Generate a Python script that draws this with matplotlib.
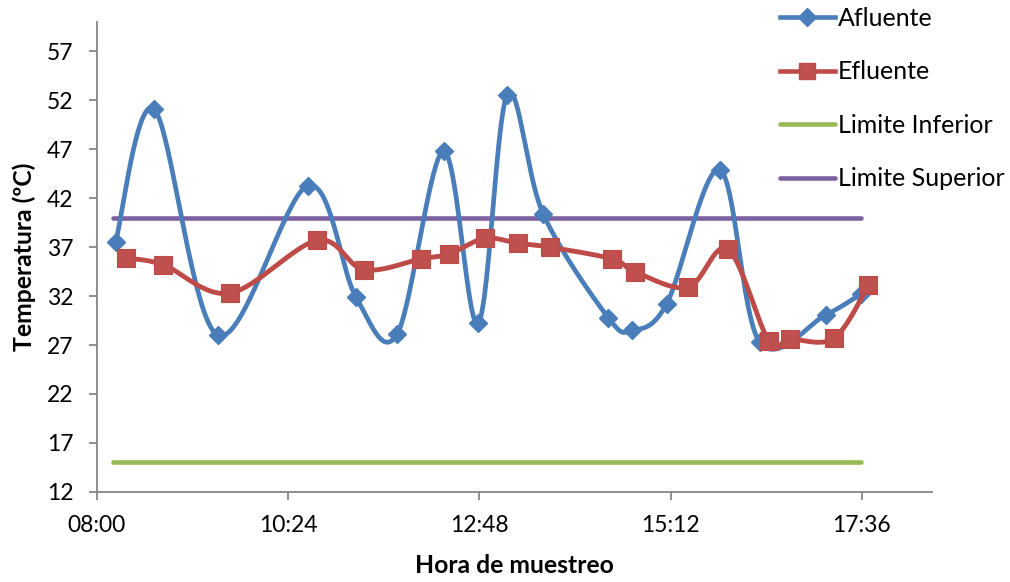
import numpy as np
import matplotlib.pyplot as plt
from matplotlib.lines import Line2D

plt.rcParams['font.family'] = ['Lato', 'DejaVu Sans']

# Afluente (rombos azules)
afl_hora = ["08:14", "08:43", "09:31", "10:39", "11:15", "11:46", "12:21", "12:47", "13:09",
            "13:36", "14:25", "14:43", "15:09", "15:49", "16:19", "17:09", "17:35"]
afl_temp = [37.5, 51.1, 28.0, 43.3, 31.9, 28.1, 46.8, 29.2, 52.6,
            40.4, 29.8, 28.5, 31.2, 44.9, 27.3, 30.1, 32.2]

# Efluente (cuadros rojos)
efl_hora = ["08:22", "08:50", "09:40", "10:46", "11:21", "12:04", "12:25", "12:52", "13:17",
            "13:41", "14:28", "14:45", "15:25", "15:55", "16:26", "16:42", "17:15", "17:41"]
efl_temp = [35.9, 35.2, 32.3, 37.7, 34.7, 35.8, 36.3, 37.9, 37.4,
            37.0, 35.8, 34.5, 32.9, 36.8, 27.4, 27.6, 27.7, 33.1]

# limites
lim_hora = ["08:12", "17:35"]
lim_inf = [15, 15]
lim_sup = [40, 40]

ticks_hora = ["08:00", "10:24", "12:48", "15:12", "17:36"]
ticks_temp = [12, 17, 22, 27, 32, 37, 42, 47, 52, 57]

azul = '#4A7EBB'
rojo = '#BE4B48'
verde = '#98B954'
morado = '#7D60A0'
gris = '#868686'


def minutos(horas):
    return np.array([int(h[:2]) * 60 + int(h[3:]) for h in horas], dtype=float)


def suavizar(x, y, n=40):
    # curva tipo excel (bezier cubica)
    px = np.concatenate([[x[0]], x, [x[-1]]])
    py = np.concatenate([[y[0]], y, [y[-1]]])
    t = np.linspace(0, 1, n)
    xs, ys = [], []
    for i in range(1, len(px) - 2):
        x0, y0 = px[i], py[i]
        x3, y3 = px[i + 1], py[i + 1]
        x1 = x0 + (px[i + 1] - px[i - 1]) / 6
        y1 = y0 + (py[i + 1] - py[i - 1]) / 6
        x2 = x3 - (px[i + 2] - px[i]) / 6
        y2 = y3 - (py[i + 2] - py[i]) / 6
        b0 = (1 - t) ** 3
        b1 = 3 * (1 - t) ** 2 * t
        b2 = 3 * (1 - t) * t ** 2
        b3 = t ** 3
        xs.append(b0 * x0 + b1 * x1 + b2 * x2 + b3 * x3)
        ys.append(b0 * y0 + b1 * y1 + b2 * y2 + b3 * y3)
    return np.concatenate(xs), np.concatenate(ys)


fig = plt.figure(figsize=(10.1, 5.82), dpi=100)
ax = fig.add_axes([0.096, 0.155, 0.827, 0.807])

xa, ya = minutos(afl_hora), np.array(afl_temp)
xe, ye = minutos(efl_hora), np.array(efl_temp)
xl = minutos(lim_hora)

ax.plot(xl, lim_inf, color=verde, lw=3.3, solid_capstyle='round', zorder=2)
ax.plot(xl, lim_sup, color=morado, lw=3.3, solid_capstyle='round', zorder=2)

sx, sy = suavizar(xa, ya)
ax.plot(sx, sy, color=azul, lw=3.4, solid_capstyle='round', zorder=3)
ax.plot(xa, ya, ls='none', marker='D', ms=9, color=azul, mec=azul, zorder=4)

sx, sy = suavizar(xe, ye)
ax.plot(sx, sy, color=rojo, lw=3.5, solid_capstyle='round', zorder=5)
ax.plot(xe, ye, ls='none', marker='s', ms=13, color='#C0504D', mec='#BC4A47', mew=0.8, zorder=6)

xt = minutos(ticks_hora)
ax.set_xlim(xt[0], xt[0] + 629)
ax.set_ylim(12, 60)
ax.set_xticks(xt)
ax.set_xticklabels(ticks_hora)
ax.set_yticks(ticks_temp)

for s in ['top', 'right']:
    ax.spines[s].set_visible(False)
for s in ['left', 'bottom']:
    ax.spines[s].set_color(gris)
    ax.spines[s].set_linewidth(1.3)
ax.tick_params(axis='both', colors=gris, labelcolor='black', labelsize=16.5, length=6, width=1.3)
ax.tick_params(axis='x', pad=11)
ax.tick_params(axis='y', pad=11)

ax.set_xlabel('Hora de muestreo', fontsize=17.8, fontweight='bold', labelpad=13)
ax.set_ylabel('Temperatura (ºC)', fontsize=17.8, fontweight='bold', labelpad=8)

manejadores = [
    Line2D([], [], color=azul, lw=3.3, marker='D', ms=9),
    Line2D([], [], color=rojo, lw=3.3, marker='s', ms=12, mfc='#C0504D', mec='#BC4A47'),
    Line2D([], [], color=verde, lw=3.3, solid_capstyle='round'),
    Line2D([], [], color=morado, lw=3.3, solid_capstyle='round'),
]
fig.legend(manejadores, ['Afluente', 'Efluente', 'Limite Inferior', 'Limite Superior'],
           loc='upper left', bbox_to_anchor=(0.772, 0.988), frameon=False, fontsize=18,
           handlelength=2.2, handletextpad=0.12, labelspacing=1.22, borderpad=0,
           borderaxespad=0)

fig.savefig('out.png', dpi=100)
